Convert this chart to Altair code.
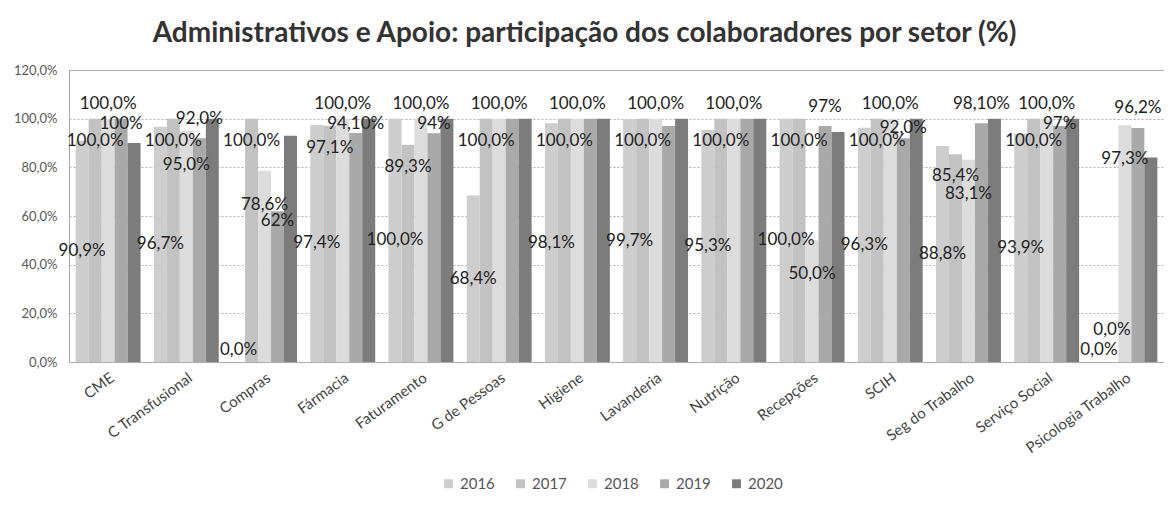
import altair as alt
import pandas as pd

setores = ["CME", "C Transfusional", "Compras", "Fármacia", "Faturamento", "G de Pessoas",
           "Higiene", "Lavanderia", "Nutrição", "Recepções", "SCIH", "Seg do Trabalho",
           "Serviço Social", "Psicologia Trabalho"]
anos = ["2016", "2017", "2018", "2019", "2020"]

v2016 = [90.9, 96.7, 0.0, 97.4, 100.0, 68.4, 98.1, 99.7, 95.3, 100.0, 96.3, 88.8, 93.9, 0.0]
v2017 = [100.0, 100.0, 100.0, 97.1, 89.3, 100.0, 100.0, 100.0, 100.0, 100.0, 100.0, 85.4, 100.0, 0.0]
v2018 = [100.0, 95.0, 78.6, 100.0, 100.0, 100.0, 100.0, 100.0, 100.0, 50.0, 100.0, 83.1, 100.0, 97.3]
v2019 = [100.0, 92.0, 62.0, 94.1, 94.0, 100.0, 100.0, 97.0, 100.0, 97.0, 92.0, 98.1, 97.0, 96.2]
v2020 = [90.0, 100.0, 93.0, 100.0, 100.0, 100.0, 100.0, 100.0, 100.0, 94.5, 100.0, 100.0, 100.0, 84.0]

r2016 = ["90,9%", "96,7%", "0,0%", "97,4%", "100,0%", "68,4%", "98,1%", "99,7%", "95,3%",
         "100,0%", "96,3%", "88,8%", "93,9%", "0,0%"]
r2017 = ["100,0%", "100,0%", "100,0%", "97,1%", "89,3%", "100,0%", "100,0%", "100,0%", "100,0%",
         "100,0%", "100,0%", "85,4%", "100,0%", "0,0%"]
r2018 = ["100,0%", "95,0%", "78,6%", "100,0%", "100,0%", "100,0%", "100,0%", "100,0%", "100,0%",
         "50,0%", "100,0%", "83,1%", "100,0%", "97,3%"]
r2019 = ["100%", "92,0%", "62%", "94,10%", "94%", "", "", "", "", "97%", "92,0%", "98,10%", "97%", "96,2%"]
r2020 = [""] * 14

valores = {"2016": v2016, "2017": v2017, "2018": v2018, "2019": v2019, "2020": v2020}
rotulos = {"2016": r2016, "2017": r2017, "2018": r2018, "2019": r2019, "2020": r2020}
cores = ["#cdcdcd", "#c2c2c2", "#dcdcdc", "#a9a9a9", "#7c7c7c"]
eixo_y = [0, 20, 40, 60, 80, 100, 120]


def posicao_rotulo(ano, i):
    """Label anchor (in data units) following the label placement of each series."""
    v = valores[ano][i]
    if ano == "2016":          # centre of the bar
        return max(v / 2, 5)
    if ano == "2017":          # inside end
        return v - 9 if v >= 10 else 13
    if ano == "2018":          # outside end for full bars, inside otherwise
        return v + 6 if v >= 99 else v - 14
    if ano == "2019":
        if v2018[i] >= 99:
            return min(v + 4, 98)
        return v + 8 if v >= 80 else v - 4
    return v


rows = []
for ano in anos:
    for i, s in enumerate(setores):
        rows.append({"setor": s, "ano": ano, "valor": valores[ano][i],
                     "rotulo": rotulos[ano][i], "ly": posicao_rotulo(ano, i)})
df = pd.DataFrame(rows)

FONT = "Lato"

x_enc = alt.X("setor:N", sort=setores,
              scale=alt.Scale(paddingInner=0.17, paddingOuter=0.085),
              axis=alt.Axis(title=None, labelAngle=-36, labelFont=FONT, labelFontSize=15,
                            labelColor="#444444", labelPadding=8, ticks=False, domain=False))
xo_enc = alt.XOffset("ano:N", sort=anos, scale=alt.Scale(paddingInner=0, paddingOuter=0))
y_scale = alt.Scale(domain=[0, 120])
y_axis = alt.Axis(title=None, values=eixo_y,
                  labelExpr="replace(format(datum.value, '.1f'), '.', ',') + '%'",
                  grid=True, gridDash=[2, 2], gridColor="#b0b0b0", ticks=False, domain=False,
                  labelFont=FONT, labelFontSize=13, labelColor="#595959", labelPadding=12)

base = alt.Chart(df)

bars = base.mark_bar().encode(
    x=x_enc,
    xOffset=xo_enc,
    y=alt.Y("valor:Q", scale=y_scale, axis=y_axis),
    color=alt.Color("ano:N", sort=anos, scale=alt.Scale(domain=anos, range=cores),
                    legend=alt.Legend(title=None, orient="none", legendX=372, legendY=406,
                                      direction="horizontal", symbolType="square", symbolSize=80,
                                      symbolStrokeWidth=0, labelFont=FONT, labelFontSize=15,
                                      labelColor="#555555", columnPadding=18)),
)

labels = base.transform_filter("datum.rotulo != ''").mark_text(
    font=FONT, fontSize=17, color="#222222", baseline="middle"
).encode(
    x=x_enc,
    xOffset=xo_enc,
    y=alt.Y("ly:Q", scale=y_scale, axis=y_axis),
    text="rotulo:N",
)

chart = alt.layer(bars, labels).properties(
    width=1095,
    height=292,
    padding={"left": 61, "top": 62, "right": 0, "bottom": 135},
    autosize=alt.AutoSizeParams(type="none"),
    title=alt.TitleParams(
        text="Administrativos e Apoio: participação dos colaboradores por setor (%)",
        font=FONT, fontSize=28, fontWeight="bold", color="#333333",
        anchor="middle", offset=16, dx=-32),
).configure_view(stroke="#a8a8a8", strokeWidth=1)

chart.save("out.html", embed_options={"renderer": "svg", "actions": False})
